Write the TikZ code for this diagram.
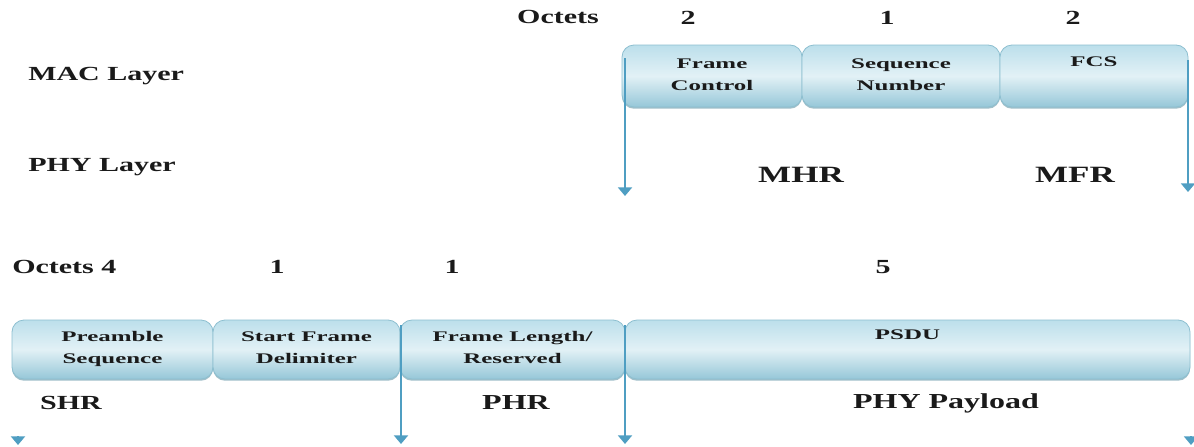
\documentclass[tikz,border=0pt]{standalone}
\usepackage{fontspec}
\setmainfont{Liberation Serif}
\newfontfamily\layerfont[FakeStretch=1.5]{Liberation Serif}
\newfontfamily\fieldfont[FakeStretch=1.7]{Liberation Serif}
\usepackage{tikz}
\usetikzlibrary{arrows.meta, positioning, shadows}
\definecolor{BoxTop}{HTML}{BCDFEB}
\definecolor{BoxMid}{HTML}{E2F1F6}
\definecolor{BoxBottom}{HTML}{96C7D8}
\definecolor{BoxEdge}{HTML}{8DBFD0}
\definecolor{ShadowBlue}{HTML}{7AA4B3}
\definecolor{ArrowBlue}{HTML}{4F9EC2}
\definecolor{TextDark}{HTML}{1A1A1A}

\tikzset{
  fieldbox/.style={draw=BoxEdge, line width=0.6pt, rounded corners=9pt,
    top color=BoxTop, bottom color=BoxBottom, middle color=BoxMid,
    drop shadow={shadow xshift=0pt, shadow yshift=-1.3pt, fill=ShadowBlue, opacity=0.7},
    inner sep=0pt, outer sep=0pt},
  toprow/.style={fieldbox, minimum height=46.5pt},
  lowrow/.style={fieldbox, minimum height=44.25pt},
  fieldtext/.style={font=\fieldfont\bfseries\fontsize{11}{16.5}\selectfont,
    align=center, text=TextDark, inner sep=0pt},
  layertext/.style={font=\layerfont\bfseries\fontsize{15}{18}\selectfont,
    text=TextDark, inner sep=0pt},
  tagtext/.style={font=\layerfont\bfseries\fontsize{16}{18}\selectfont,
    text=TextDark, inner sep=0pt}
}

\begin{document}
\begin{tikzpicture}[x=0.75pt, y=-0.75pt,
    flow/.style={draw=ArrowBlue, line width=1.5pt,
      -{Triangle[width=10.5pt, length=6.5pt]}}]
  \useasboundingbox[fill=white] (0,0) rectangle (1194,446);

  % MAC frame
  \node[layertext] (octtop) at (558,17) {Octets};
  \node[layertext] (octfc) at (688,18) {2};
  \node[layertext] (octsn) at (887,18) {1};
  \node[layertext] (octfcs) at (1073,18) {2};
  \node[layertext, anchor=west] (mac) at (28,76) {MAC Layer};
  \node[layertext, anchor=west] (phy) at (28,167) {PHY Layer};

  \node[toprow, minimum width=135pt, anchor=north west] (fc) at (622,45) {};
  \node[toprow, minimum width=148.5pt, right=0pt of fc] (sn) {};
  \node[toprow, minimum width=141pt, right=0pt of sn] (fcs) {};
  \node[fieldtext, below=10pt of fc.north] (fctext) {Frame\\Control};
  \node[fieldtext, below=10pt of sn.north] (sntext) {Sequence\\Number};
  \node[fieldtext, below=9pt of fcs.north] (fcstext) {FCS};

  \node[tagtext, font=\layerfont\bfseries\fontsize{17.5}{20}\selectfont] (mhr) at (801,175) {MHR};
  \node[tagtext, font=\layerfont\bfseries\fontsize{17.5}{20}\selectfont] (mfr) at (1075,175) {MFR};

  \coordinate (mhrtop) at (625,58);
  \coordinate (mhrend) at (625,196);
  \coordinate (mfrtop) at (1188,60);
  \coordinate (mfrend) at (1188,192);
  \draw[flow] (mhrtop) -- (mhrend);
  \draw[flow] (mfrtop) -- (mfrend);

  % PHY frame
  \node[layertext, anchor=west] (octlow) at (12,267) {Octets 4};
  \node[layertext] (octsfd) at (277,267) {1};
  \node[layertext] (octflr) at (452,267) {1};
  \node[layertext] (octpsdu) at (883,267) {5};

  \node[lowrow, minimum width=150.75pt, anchor=north west] (pre) at (12,320) {};
  \node[lowrow, minimum width=140.25pt, right=0pt of pre] (sfd) {};
  \node[lowrow, minimum width=168.75pt, right=0pt of sfd] (flr) {};
  \node[lowrow, minimum width=423.75pt, right=0pt of flr] (psdu) {};
  \node[fieldtext, below=8.5pt of pre.north] (pretext) {Preamble\\Sequence};
  \node[fieldtext, below=8.5pt of sfd.north] (sfdtext) {Start Frame\\Delimiter};
  \node[fieldtext, below=8.5pt of flr.north] (flrtext) {Frame Length/\\Reserved};
  \node[fieldtext, below=7.5pt of psdu.north] (psdutext) {PSDU};

  \node[tagtext, font=\layerfont\bfseries\fontsize{15}{18}\selectfont] (shr) at (71,403) {SHR};
  \node[tagtext] (phr) at (516,403) {PHR};
  \node[tagtext] (payload) at (946,403) {PHY Payload};

  \coordinate (shrtip) at (18,436);
  \coordinate (shrend) at (18,445);
  \coordinate (phrtop) at (401,325);
  \coordinate (phrend) at (401,444);
  \coordinate (paytop) at (625,325);
  \coordinate (payend) at (625,444);
  \coordinate (endtip) at (1191,436);
  \coordinate (endend) at (1191,445);
  \draw[flow] (shrtip) -- (shrend);
  \draw[flow] (phrtop) -- (phrend);
  \draw[flow] (paytop) -- (payend);
  \draw[flow] (endtip) -- (endend);
\end{tikzpicture}
\end{document}
